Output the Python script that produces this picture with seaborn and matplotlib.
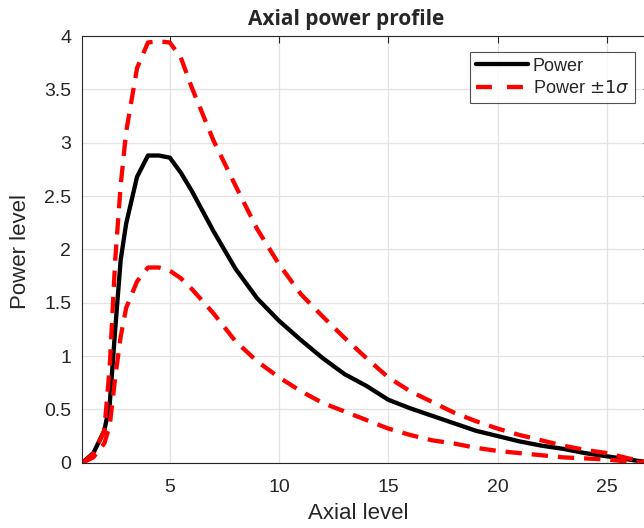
import numpy as np
import pandas as pd
import matplotlib
matplotlib.use("Agg")
import matplotlib.pyplot as plt
import seaborn as sns
from matplotlib.ticker import FuncFormatter

# axial positions (dense near the steep rise) and read-off power values
axial = [1, 1.5, 2, 2.25, 2.5, 2.75, 3, 3.5, 4, 4.5, 5, 5.5, 6, 7, 8, 9, 10,
         11, 12, 13, 14, 15, 16, 17, 18, 19, 20, 21, 22, 23, 24, 25, 26, 27]
power = [0, 0.09, 0.3, 0.55, 1.25, 1.9, 2.24, 2.68, 2.88, 2.88, 2.86, 2.72,
         2.55, 2.17, 1.82, 1.54, 1.33, 1.15, 0.98, 0.83, 0.72, 0.59, 0.51,
         0.44, 0.37, 0.30, 0.25, 0.20, 0.16, 0.13, 0.09, 0.06, 0.03, 0]
power_hi = [0, 0.08, 0.3, 0.9, 1.9, 2.6, 3.1, 3.7, 3.94, 3.95, 3.94, 3.8,
            3.52, 3.02, 2.6, 2.19, 1.86, 1.58, 1.37, 1.17, 0.98, 0.80, 0.67,
            0.57, 0.47, 0.39, 0.32, 0.26, 0.21, 0.16, 0.12, 0.09, 0.04, 0]
power_lo = [0, 0.05, 0.18, 0.35, 0.8, 1.18, 1.45, 1.7, 1.83, 1.83, 1.8, 1.73,
            1.63, 1.4, 1.14, 0.95, 0.80, 0.67, 0.56, 0.48, 0.40, 0.32, 0.26,
            0.21, 0.18, 0.14, 0.11, 0.09, 0.07, 0.05, 0.04, 0.03, 0.01, 0]

x_ticks = [5, 10, 15, 20, 25]
y_ticks = [0, 0.5, 1, 1.5, 2, 2.5, 3, 3.5, 4]

df = pd.DataFrame({"axial": axial, "power": power,
                   "hi": power_hi, "lo": power_lo})

sns.set_style("white")
plt.rcParams['font.family'] = ['Liberation Sans', 'DejaVu Sans']
plt.rcParams['mathtext.fontset'] = 'dejavusans'

fig = plt.figure(figsize=(6.44, 5.28), dpi=100)
ax = fig.add_axes([0.128, 0.1237, 0.882, 0.808])

dash = (3.8, 2.3)
sns.lineplot(data=df, x="axial", y="power", ax=ax, color="black", lw=3.1,
             label="Power")
sns.lineplot(data=df, x="axial", y="hi", ax=ax, color="#ff0000", lw=3.1,
             label=r"Power $\pm 1\sigma$")
sns.lineplot(data=df, x="axial", y="lo", ax=ax, color="#ff0000", lw=3.1)
for ln in ax.lines[1:]:
    ln.set_dashes(dash)
    ln.set_solid_joinstyle("round")
ax.lines[0].set_solid_joinstyle("round")

ax.set_xlim(1, 27)
ax.set_ylim(0, 4)
ax.set_xticks(x_ticks)
ax.set_yticks(y_ticks)
ax.yaxis.set_major_formatter(FuncFormatter(lambda v, p: f"{v:g}"))
ax.grid(True, color="#e3e3e3", lw=0.9)
ax.set_axisbelow(True)
ax.tick_params(direction="in", length=5, width=0.8, colors="#262626",
               labelsize=14, top=True, right=True, labeltop=False,
               labelright=False, pad=8)
ax.tick_params(axis="x", pad=12)
for s in ax.spines.values():
    s.set_color("#262626")
    s.set_linewidth(0.8)

ax.set_xlabel("Axial level", fontsize=16, color="#262626")
ax.set_ylabel("Power level", fontsize=16, color="#262626")
ax.xaxis.set_label_coords(0.485, -0.094)
ax.yaxis.set_label_coords(-0.09, 0.494)
fig.text(0.538, 1 - 25 / 528, "Axial power profile", ha="center",
         va="baseline", fontsize=15, fontweight="bold",
         family=["Open Sans", "DejaVu Sans"])

leg = ax.legend(loc="upper right", bbox_to_anchor=(0.972, 0.962), fontsize=13,
                frameon=True, fancybox=False, handlelength=2.9,
                borderpad=0.3, labelspacing=0.3, handletextpad=0.25,
                borderaxespad=0)
leg.get_frame().set_edgecolor("#262626")
leg.get_frame().set_linewidth(0.8)
leg.get_lines()[1].set_dashes((3.7, 3.5))

fig.savefig("out.png", dpi=100)
